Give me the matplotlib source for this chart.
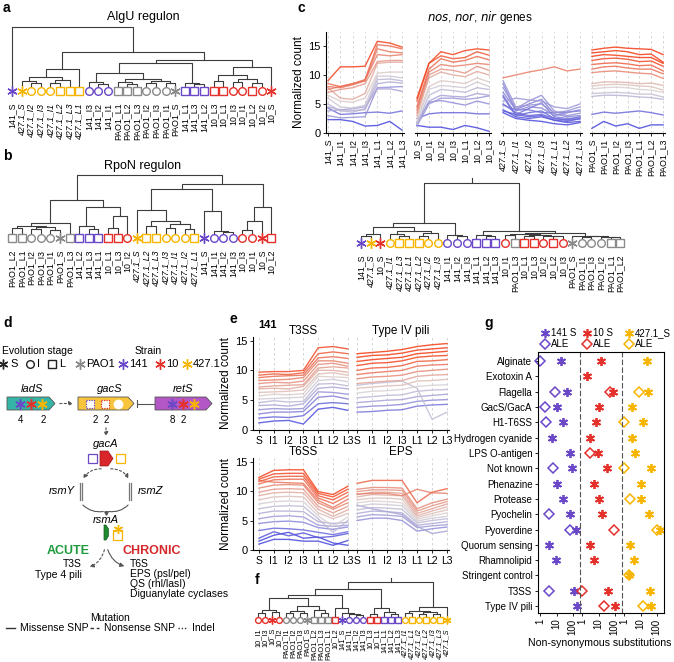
import numpy as np
import matplotlib
matplotlib.use('Agg')
import matplotlib.pyplot as plt
from matplotlib.patches import Polygon, Rectangle
from matplotlib.colors import LinearSegmentedColormap, Normalize

plt.rcParams['font.family'] = ['Liberation Sans', 'DejaVu Sans']

W, H = 674, 662
STAGES = ['S', 'I1', 'I2', 'I3', 'L1', 'L2', 'L3']
STRAIN_COL = {'PAO1': '#8a8a8a', '141': '#6a48c8', '10': '#e4312b', '427.1': '#f7b500'}
STAR = (6, 2, 0)

# ---- dendrogram data (leaf order + merge heights) ----
labels_a = ['141_S', '427.1_S', '427.1_I2', '427.1_I3', '427.1_I1', '427.1_L2', '427.1_L3', '427.1_L1',
            '141_I3', '141_I2', '141_I1', 'PAO1_L1', 'PAO1_L2', 'PAO1_L3', 'PAO1_I2', 'PAO1_I3', 'PAO1_I1',
            'PAO1_S', '141_L1', '141_L3', '141_L2', '10_L3', '10_L1', '10_I3', '10_I1', '10_L2', '10_I2', '10_S']
tree_a = (64, 0, (39, (22, (14, (10, 1, (8, 2, 3)), (11, (8, 4, 5), 6)), 7),
                  (31, (28, (18, (9, 8, (7, 9, 10)), (12, (9, 11, (7, 12, 13)), (10, (8, 14, 15), (8, 16, 17)))),
                        (8, 18, (7, 19, 20))),
                   (24, (16, (10, 21, 22), (12, (9, 23, 24), (8, 25, 26))), 27))))

labels_b = ['PAO1_L2', 'PAO1_L1', 'PAO1_I2', 'PAO1_I3', 'PAO1_I1', 'PAO1_S', 'PAO1_L3', '141_L2', '141_L3',
            '141_L1', '10_L1', '10_L3', '10_I2', '427.1_S', '427.1_L2', '427.1_L3', '427.1_I3', '427.1_I1',
            '427.1_I2', '427.1_L1', '141_S', '141_I1', '141_I2', '141_I3', '10_I3', '10_I1', '10_S', '10_L2']
tree_b = (63, (38, (15, (12, (10, 0, 1), (11, (9, 2, 3), (8, 4, 5))), 6),
               (31, (12, 7, (9, 8, 9)), (22, (10, 10, 11), 12))),
          (54, (49, (28, 13, (17, (12, 14, 15), (14, (10, 16, 17), (9, 18, 19)))),
                (27, 20, (7, 21, (6, 22, 23)))),
           (31, (17, (8, 24, 25), 26), 27)))

labels_c = ['141_S', '427.1_S', '10_S', '427.1_I1', '427.1_L3', '427.1_L1', '427.1_L2', '427.1_I2', '427.1_I3',
            '141_I1', '141_I2', '141_I3', '141_L1', '141_L2', '141_L3', '10_I1', 'PAO1_L3', '10_L1', '10_L3',
            '10_I2', '10_L2', '10_I3', 'PAO1_S', 'PAO1_I1', 'PAO1_I3', 'PAO1_I2', 'PAO1_L1', 'PAO1_L2']
tree_c = (60, (20, (16, (9, (7, 0, 1), 2), (12, (9, 3, (7, 4, 5)), (10, (7, 6, 7), 8))), (8, 9, (7, 10, 11))),
          (12, (8, 12, (7, 13, 14)),
           (10, (9, (8, 15, 16), (8, (7, 17, 18), (7, 19, (6.5, 20, 21)))),
            (7, 22, (6.5, (6, 23, 24), (6, 25, (5.8, 26, 27)))))))

labels_f = ['10_I1', '10_I3', '10_S', '10_I2', 'PAO1_I1', 'PAO1_I2', 'PAO1_I3', 'PAO1_S', 'PAO1_L2', 'PAO1_L3',
            'PAO1_L1', '10_L2', '141_S', '141_I1', '141_I2', '141_I3', '10_L3', '10_L1', '141_L1', '141_L2',
            '141_L3', '427.1_I1', '427.1_L1', '427.1_I2', '427.1_L2', '427.1_I3', '427.1_L3', '427.1_S']
tree_f = (38, (31, (25, (22, (10, (7, 0, 1), (8, 2, 3)), (14, (9, (7, 4, 5), (7, 6, 7)), (10, 8, (7, 9, 10)))),
                    (12, 11, (7, 12, (6, 13, (5.5, 14, 15))))),
               (12, (6, 16, 17), (8, 18, (6, 19, 20)))),
          (13, (9, (7, 21, 22), (8, (6, 23, 24), (6, 25, 26))), 27))

# ---- panel c: nos/nor/nir normalized counts (S, I1, I2, I3, L1, L2, L3) ----
c_141 = [[9.0, 11.4, 11.4, 11.5, 15.8, 15.5, 14.8], [8.5, 8.0, 8.5, 9.2, 15.2, 15.0, 14.5],
         [8.0, 7.8, 8.3, 9.0, 14.5, 14.0, 13.8], [7.5, 8.0, 8.5, 9.0, 13.5, 13.3, 13.5],
         [7.0, 7.5, 7.8, 8.5, 12.3, 12.5, 12.5], [7.8, 6.0, 5.8, 6.8, 12.0, 12.2, 12.2],
         [6.5, 5.5, 5.3, 6.0, 10.3, 10.5, 10.5], [6.0, 4.5, 4.3, 4.8, 9.8, 9.8, 9.5],
         [5.0, 3.8, 3.6, 4.2, 9.2, 9.3, 9.0], [4.5, 4.0, 3.9, 4.0, 8.5, 8.8, 8.6],
         [3.8, 4.0, 4.2, 4.5, 7.6, 7.6, 7.2], [4.3, 3.2, 3.3, 3.5, 3.6, 3.4, 3.8],
         [2.3, 2.3, 2.0, 1.2, 1.3, 2.0, 0.5], [3.0, 2.6, 2.7, 2.8, 7.8, 7.9, 8.0]]
c_10 = [[6.0, 12.0, 14.0, 13.5, 14.2, 14.5, 14.3], [5.5, 12.0, 13.3, 12.8, 13.0, 14.0, 13.4],
        [4.5, 11.0, 12.8, 12.2, 12.5, 13.2, 12.6], [4.0, 10.5, 11.8, 11.5, 11.7, 12.0, 11.8],
        [3.5, 10.0, 11.0, 10.8, 10.3, 11.5, 10.8], [3.0, 9.5, 10.5, 10.0, 9.7, 10.6, 10.0],
        [2.5, 8.0, 9.0, 8.8, 8.5, 9.5, 8.8], [2.0, 7.5, 8.2, 8.0, 7.8, 8.8, 8.0],
        [1.5, 6.5, 7.5, 7.3, 7.0, 7.8, 7.5], [1.5, 5.5, 6.5, 6.3, 6.2, 6.8, 6.5],
        [1.2, 5.0, 6.0, 6.0, 5.8, 6.0, 6.4], [2.5, 3.3, 3.5, 3.5, 3.5, 3.3, 3.3],
        [1.3, 1.0, 1.0, 0.6, 1.3, 0.9, 0.3], [1.8, 5.3, 5.6, 5.2, 4.8, 5.5, 5.0]]
c_427 = [[9.5, 10.0, 10.5, 10.9, 11.4, 10.7, 11.0], [9.0, 4.5, 4.8, 5.0, 3.5, 3.8, 4.5],
         [8.5, 3.8, 4.5, 4.3, 3.0, 3.5, 4.0], [7.8, 4.2, 5.5, 6.5, 3.8, 3.0, 3.4],
         [7.0, 4.0, 5.0, 5.8, 3.3, 2.8, 3.0], [6.5, 3.2, 4.2, 5.2, 2.8, 2.5, 2.6],
         [6.2, 3.0, 3.5, 3.8, 2.5, 2.2, 2.4], [5.5, 6.0, 5.7, 5.5, 4.5, 4.2, 5.0],
         [4.8, 4.0, 4.0, 3.5, 3.5, 3.6, 3.8], [4.0, 2.8, 2.5, 2.8, 2.2, 1.8, 2.0],
         [3.8, 3.2, 2.8, 3.0, 2.2, 2.0, 2.5], [3.5, 2.5, 2.2, 2.0, 1.6, 1.4, 1.8],
         [5.0, 3.5, 3.0, 3.2, 2.5, 2.3, 2.8]]
c_pao1 = [[14.3, 14.6, 14.8, 14.6, 14.5, 14.4, 13.5], [13.8, 14.0, 14.2, 14.0, 13.5, 13.6, 12.2],
          [13.2, 13.5, 13.4, 13.2, 13.0, 13.0, 12.0], [12.5, 12.8, 12.9, 12.7, 12.3, 12.4, 11.5],
          [11.8, 12.0, 12.1, 11.9, 11.6, 11.7, 10.7], [11.0, 11.4, 11.5, 11.2, 11.0, 11.0, 10.2],
          [10.4, 10.6, 10.7, 10.5, 10.3, 10.2, 9.4], [8.5, 8.8, 8.8, 8.7, 8.5, 8.6, 8.2],
          [8.1, 8.3, 8.4, 8.3, 8.1, 8.0, 7.4], [7.6, 7.8, 7.9, 7.8, 7.5, 7.4, 7.0],
          [6.8, 6.9, 7.0, 6.9, 6.7, 6.7, 6.2], [6.3, 6.5, 6.5, 6.4, 6.2, 6.1, 5.8],
          [3.2, 3.6, 3.4, 3.6, 3.8, 3.5, 3.1], [0.8, 2.0, 1.2, 1.6, 0.8, 1.4, 1.4]]

# ---- panel e: strain 141 pathways ----
e_t3ss = [[9.7, 9.8, 9.8, 10.0, 13.8, 14.0, 13.6], [9.2, 9.4, 9.3, 9.6, 12.8, 13.1, 12.8],
          [8.8, 9.0, 9.1, 9.2, 12.1, 12.3, 12.0], [8.3, 8.4, 8.5, 8.8, 11.6, 11.6, 11.2],
          [7.8, 8.0, 7.9, 8.2, 11.0, 11.2, 10.7], [7.2, 7.4, 7.5, 7.6, 10.4, 10.6, 10.4],
          [6.9, 7.0, 6.9, 7.3, 10.0, 10.0, 9.7], [6.3, 6.4, 6.5, 6.7, 9.4, 9.6, 9.2],
          [5.7, 6.0, 5.9, 6.1, 9.0, 8.9, 8.8], [5.2, 5.3, 5.4, 5.5, 8.3, 8.5, 8.1],
          [4.6, 4.9, 4.7, 4.8, 7.7, 7.8, 7.4], [4.1, 4.2, 4.0, 4.4, 7.0, 7.2, 6.9],
          [3.4, 3.6, 3.5, 3.6, 6.4, 6.3, 6.0], [2.7, 3.0, 3.0, 3.1, 5.5, 5.7, 5.2],
          [2.0, 2.2, 2.1, 2.4, 4.4, 4.6, 4.4], [1.2, 1.5, 1.6, 1.0, 3.5, 3.8, 3.3]]
e_pili = [[12.8, 13.0, 13.2, 13.5, 14.0, 14.3, 14.5], [12.2, 12.5, 12.6, 12.9, 13.4, 13.6, 13.8],
          [11.5, 11.8, 12.0, 12.2, 12.8, 13.0, 13.2], [10.8, 11.2, 11.3, 11.6, 12.2, 12.4, 12.5],
          [10.0, 10.4, 10.5, 10.8, 11.5, 11.6, 11.8], [9.3, 9.6, 9.8, 10.0, 10.7, 10.9, 11.0],
          [8.6, 8.9, 9.0, 9.2, 9.8, 10.0, 10.2], [7.8, 8.0, 8.2, 8.3, 9.0, 9.2, 9.3],
          [7.0, 7.2, 7.4, 7.5, 8.2, 8.3, 8.5], [6.2, 6.5, 6.6, 6.8, 7.3, 7.5, 7.6],
          [5.4, 5.6, 5.8, 5.9, 6.5, 6.7, 6.8], [4.6, 4.8, 5.0, 5.1, 5.6, 5.8, 6.0],
          [3.8, 4.0, 4.1, 4.3, 4.8, 5.0, 5.1], [3.0, 3.1, 3.3, 3.4, 4.0, 4.2, 4.3],
          [7.5, 7.8, 8.0, 8.2, 7.0, 1.8, 3.0]]
e_t6ss = [[12.3, 13.5, 13.6, 13.6, 9.9, 9.4, 10.8], [12.0, 12.9, 13.0, 13.0, 9.6, 9.0, 10.3],
          [11.6, 12.4, 12.5, 12.5, 9.2, 8.5, 9.8], [11.2, 11.9, 12.0, 12.0, 8.8, 7.9, 9.2],
          [11.8, 11.5, 11.4, 11.3, 8.4, 7.2, 8.6], [10.5, 11.0, 11.1, 11.0, 8.0, 6.9, 8.0],
          [9.8, 10.3, 10.4, 10.3, 7.4, 6.3, 7.4], [9.2, 9.7, 9.8, 9.7, 6.9, 5.7, 6.8],
          [8.5, 9.0, 9.1, 9.0, 6.3, 5.3, 6.2], [7.8, 8.2, 8.3, 8.2, 5.8, 4.0, 5.6],
          [7.0, 7.4, 7.5, 7.4, 5.3, 3.0, 5.0], [6.2, 6.6, 6.6, 6.5, 4.8, 4.5, 4.7],
          [5.3, 5.7, 5.8, 5.6, 4.2, 4.0, 4.2], [4.5, 4.8, 4.9, 4.7, 3.8, 3.5, 3.9],
          [3.3, 3.7, 3.6, 3.4, 3.0, 2.6, 3.1], [2.0, 3.1, 2.4, 2.9, 2.1, 2.3, 2.8],
          [1.0, 1.8, 1.8, 1.5, 1.5, 0.8, 1.6], [1.5, 2.5, 3.0, 2.0, 2.2, 1.2, 0.8]]
e_eps = [[11.3, 11.8, 11.8, 11.8, 8.0, 9.8, 10.4], [10.3, 10.6, 10.6, 10.5, 7.0, 8.0, 8.6],
         [9.9, 10.2, 10.2, 10.1, 6.6, 7.5, 8.2], [9.4, 9.8, 9.8, 9.6, 6.2, 7.0, 7.8],
         [9.0, 9.4, 9.3, 9.2, 5.8, 6.6, 7.3], [9.5, 9.6, 9.6, 9.2, 10.3, 9.7, 9.6],
         [8.5, 8.8, 8.8, 8.6, 5.5, 6.2, 6.8], [8.0, 8.3, 8.2, 8.0, 5.2, 5.8, 6.3],
         [7.4, 7.8, 7.7, 7.5, 4.9, 5.4, 5.7], [6.8, 7.2, 7.1, 6.9, 4.6, 5.0, 5.3],
         [6.2, 6.6, 6.5, 6.3, 4.2, 4.5, 4.8], [5.6, 6.0, 5.9, 5.7, 3.8, 4.1, 4.3],
         [5.0, 5.4, 5.4, 5.0, 3.2, 3.6, 3.9], [7.6, 7.0, 6.5, 6.0, 4.0, 2.8, 3.2]]

# ---- panel g: non-synonymous substitutions per pathway ----
g_cats = ['Alginate', 'Exotoxin A', 'Flagella', 'GacS/GacA', 'H1-T6SS', 'Hydrogen cyanide', 'LPS O-antigen',
          'Not known', 'Phenazine', 'Protease', 'Pyochelin', 'Pyoverdine', 'Quorum sensing', 'Rhamnolipid',
          'Stringent control', 'T3SS', 'Type IV pili']
nan = np.nan
g_s141 = [20, nan, 45, 10, 24, 5, 72, 95, 10, 24, 72, 166, 3.2, 9.3, nan, 120, 180]
g_a141 = [1, nan, 8, 2, 2.3, nan, nan, 6.4, nan, nan, 3.2, 72, nan, nan, nan, 3.2, nan]
g_s10 = [15, 2, 75, 10, 7.4, 3, 9.3, 33, 5.3, 10, 17, nan, 3, 5.3, nan, 38, 105]
g_a10 = [nan, nan, 50, nan, nan, nan, 3, nan, nan, nan, nan, 95, nan, nan, nan, 1, 22]
g_s427 = [25, nan, 30, 3, 14, 2.8, 4.8, 42, 10, 11, 32, 160, 2.1, 3.9, 2, 36, 43]
g_a427 = [nan, nan, 8, nan, 1, nan, nan, 1, nan, 2.1, nan, 100, nan, nan, 2, nan, 13.5]

fig = plt.figure(figsize=(W / 100, H / 100), dpi=100)


def px_axes(x0, y0, x1, y1):
    return fig.add_axes([x0 / W, 1 - y1 / H, (x1 - x0) / W, (y1 - y0) / H])


def leaf_style(lab):
    strain, stage = lab.rsplit('_', 1)
    mk = {'S': STAR, 'I': 'o', 'L': 's'}[stage[0]]
    return mk, STRAIN_COL[strain]


def draw_tree(ax, node, base):
    if isinstance(node, int):
        return node, base
    h, left, right = node
    x1, h1 = draw_tree(ax, left, base)
    x2, h2 = draw_tree(ax, right, base)
    ax.plot([x1, x1, x2, x2], [h1, h, h, h2], color='#3c3c3c', lw=0.8, clip_on=False)
    return (x1 + x2) / 2, h


def dendro(tree, labels, x_first, step, y_root, y_mark, stem=0, base=5, ms=5.5, fs=6.3, pad=5.5):
    n = len(labels)
    ax = px_axes(x_first - step / 2, y_root - stem, x_first + (n - 0.5) * step, y_mark + 4)
    ax.set_xlim(-0.5, n - 0.5)
    ax.set_ylim(-4, y_mark - y_root + stem)
    xr, hr = draw_tree(ax, tree, base)
    if stem:
        ax.plot([xr, xr], [hr, hr + stem], color='#3c3c3c', lw=0.8, clip_on=False)
    for i, lab in enumerate(labels):
        mk, col = leaf_style(lab)
        size = ms * 1.35 if mk == STAR else ms
        ax.plot(i, 0, marker=mk, mfc='none', mec=col, ms=size, mew=1.0, clip_on=False)
    ax.set_xticks(range(n))
    ax.set_xticklabels(labels, rotation=90, fontsize=fs)
    for t in ax.get_xticklabels():
        if t.get_text().startswith('427.1'):
            t.set_fontstyle('italic')
    ax.tick_params(length=0, pad=pad)
    ax.set_yticks([])
    for s in ax.spines.values():
        s.set_visible(False)
    ax.patch.set_visible(False)
    return ax


cmap = LinearSegmentedColormap.from_list('soft_bwr', ['#4848dc', '#dad3d3', '#f43c14'])


def line_panel(ax, rows, vmin, vmax):
    norm = Normalize(vmin, vmax)
    for r in sorted(rows, key=np.mean):
        ax.plot(range(7), r, color=cmap(norm(np.mean(r))), lw=1.0, alpha=0.85)
    ax.grid(axis='x', ls=(0, (3, 3)), color='#cfcfcf', lw=0.6)
    ax.spines['top'].set_visible(False)
    ax.spines['right'].set_visible(False)
    ax.patch.set_visible(False)


# ---- a, b, c dendrograms ----
dendro(tree_a, labels_a, 12, 9.6, 27, 91)
dendro(tree_b, labels_b, 12, 9.6, 175, 238)
dendro(tree_c, labels_c, 361, 9.6, 183, 243, stem=5)
dendro(tree_f, labels_f, 258, 7.0, 582, 620, stem=4, base=3.5, ms=4.2, fs=5.3, pad=3)

# ---- c line charts ----
c_sets = [('141', c_141, 326, 404), ('10', c_10, 415, 491), ('427.1', c_427, 501, 582), ('PAO1', c_pao1, 590, 665)]
for k, (strain, rows, x0, x1) in enumerate(c_sets):
    ax = px_axes(x0, 32, x1, 133)
    line_panel(ax, rows, 2, 13)
    ax.set_xlim(-0.16, 6.16)
    ax.set_ylim(0, 17.4)
    ax.set_xticks(range(7))
    ax.set_xticklabels([strain + '_' + s for s in STAGES], rotation=90, fontsize=6.3)
    if strain == '427.1':
        for t in ax.get_xticklabels():
            t.set_fontstyle('italic')
    ax.tick_params(length=2.5, width=0.6, pad=1.5, labelsize=6.3)
    if k == 0:
        ax.set_yticks([0, 5, 10, 15])
        ax.tick_params(axis='y', labelsize=8)
        ax.set_ylabel('Normalized count', fontsize=8.5, labelpad=2)
    else:
        ax.spines['left'].set_visible(False)
        ax.set_yticks([])

# ---- e line charts ----
e_sets = [(e_t3ss, 'T3SS', 253, 353, 337, 430, True), (e_pili, 'Type IV pili', 353, 449, 337, 430, False),
          (e_t6ss, 'T6SS', 253, 353, 458, 550, True), (e_eps, 'EPS', 353, 449, 458, 550, False)]
for rows, title, x0, x1, y0, y1, first in e_sets:
    ax = px_axes(x0, y0, x1, y1)
    line_panel(ax, rows, 2, 12)
    ax.set_ylim(0, 15.6)
    ax.set_xlim((-0.4, 6.35) if first else (-0.27, 6.13))
    ax.set_xticks(range(7))
    ax.set_xticklabels(STAGES, fontsize=7.5)
    ax.tick_params(length=2.5, width=0.6, pad=1.5)
    ax.set_title(title, fontsize=8.5, pad=2)
    if first:
        ax.set_yticks([0, 5, 10, 15])
        ax.tick_params(axis='y', labelsize=8)
        ax.set_ylabel('Normalized count', fontsize=8.5, labelpad=2)
    else:
        ax.spines['left'].set_visible(False)
        ax.set_yticks([])

# ---- g dot plot ----
g_sets = [(g_s141, g_a141, '#6a48c8'), (g_s10, g_a10, '#e4312b'), (g_s427, g_a427, '#f7b500')]
ypos = np.arange(len(g_cats))
for k, (svals, avals, col) in enumerate(g_sets):
    ax = px_axes(538 + 42 * k, 352, 580 + 42 * k, 613)
    ax.set_xscale('log')
    ax.set_xlim(0.72, 280)
    ax.set_ylim(len(g_cats) - 0.55, -0.6)
    ax.plot(avals, ypos, 'D', mfc='none', mec=col, ms=5.5, mew=1.1, ls='none', clip_on=False)
    ax.plot(svals, ypos, marker=STAR, color=col, ms=6.5, mew=1.3, ls='none', clip_on=False)
    ax.set_xticks([1, 10, 100])
    ax.set_xticklabels(['1', '10', '100'], rotation=90, fontsize=7)
    ax.xaxis.set_minor_locator(matplotlib.ticker.NullLocator())
    ax.tick_params(axis='x', length=2.5, width=0.6, pad=1.5)
    if k == 0:
        ax.set_yticks(ypos)
        ax.set_yticklabels(g_cats, fontsize=7)
        ax.tick_params(axis='y', length=2.5, width=0.6, pad=1.5)
    else:
        ax.set_yticks([])
        ax.spines['left'].set_linestyle((0, (4, 3)))
        ax.spines['left'].set_color('#555555')
    if k < 2:
        ax.spines['right'].set_visible(False)
    ax.patch.set_visible(False)

# ---- overlay in pixel coordinates: labels, titles, panel d ----
ov = fig.add_axes([0, 0, 1, 1])
ov.set_xlim(0, W)
ov.set_ylim(H, 0)
ov.axis('off')


def txt(x, y, s, **kw):
    kw.setdefault('fontsize', 7.5)
    kw.setdefault('ha', 'center')
    kw.setdefault('va', 'center')
    ov.text(x, y, s, **kw)


for lab, x, y in [('a', 3, 8), ('b', 3, 156), ('c', 297, 8), ('d', 3, 323), ('e', 230, 319), ('f', 255, 580),
                  ('g', 484, 323)]:
    txt(x, y, lab, fontsize=10, fontweight='bold', ha='left')
txt(143, 17, 'AlgU regulon', fontsize=9)
txt(143, 166, 'RpoN regulon', fontsize=9)
ov.text(480, 17, r'$\it{nos}$, $\it{nor}$, $\it{nir}$ genes', fontsize=8.5, ha='center', va='center')
txt(258, 325, '141', fontsize=8, fontweight='bold', ha='left')

# g legend
for k, (name, col) in enumerate([('141 S', '#6a48c8'), ('10 S', '#e4312b'), ('427.1_S', '#f7b500')]):
    x = 545 + 42 * k
    ov.plot(x, 333, marker=STAR, color=col, ms=6.5, mew=1.2)
    txt(x + 6, 333, name, ha='left', fontsize=7)
    ov.plot(x, 344, 'D', mfc='none', mec=col, ms=5, mew=1.1)
    txt(x + 6, 344, 'ALE', ha='left', fontsize=7)
txt(600, 643, 'Non-synonymous substitutions', fontsize=7.6)

# d legend
txt(2, 351, 'Evolution stage', fontsize=7.5, ha='left')
txt(148, 351, 'Strain', fontsize=7.5)
for x, mk, lab in [(3, STAR, 'S'), (30, 'o', 'I'), (52, 's', 'L')]:
    ov.plot(x, 364, marker=mk, mfc='none', mec='#222222', ms=7 if mk == STAR else 5.5, mew=1.0)
    txt(x + 7, 364, lab, ha='left', fontsize=8)
for x, strain in [(80, 'PAO1'), (123, '141'), (160, '10'), (187, '427.1')]:
    ov.plot(x, 364, marker=STAR, mec=STRAIN_COL[strain], ms=7.5, mew=1.0)
    txt(x + 6, 364, strain, ha='left', fontsize=8)


def gene(x0, x1, y0, y1, col):
    tip = 6
    ov.add_patch(Polygon([(x0, y0), (x1 - tip, y0), (x1, (y0 + y1) / 2), (x1 - tip, y1), (x0, y1)],
                         closed=True, fc=col, ec='#555555', lw=0.6))


gene(7, 55, 397, 410, '#35b5a6')
gene(78, 134, 397, 410, '#f8c53c')
gene(155, 212, 397, 410, '#b356c6')
txt(32, 389, 'ladS', fontstyle='italic', fontsize=8)
txt(110, 389, 'gacS', fontstyle='italic', fontsize=8)
txt(183, 389, 'retS', fontstyle='italic', fontsize=8)
for x, strain in [(20, '141'), (31, '10'), (42, '427.1'), (172, '141'), (183, '10'), (194, '427.1')]:
    ov.plot(x, 403.5, marker=STAR, mec=STRAIN_COL[strain], ms=7.5, mew=1.1)
ov.add_patch(Rectangle((86, 399.5), 8, 8, fc='white', ec='#6a48c8', lw=0.9, ls=(0, (1, 1))))
ov.add_patch(Rectangle((101, 399.5), 8, 8, fc='white', ec='#e4312b', lw=0.9, ls=(0, (1, 1))))
ov.plot(118, 403.5, 'o', mfc='white', mec='white', ms=6)
for x, n in [(20, '4'), (43, '2'), (95, '2'), (106, '2'), (172, '8'), (183, '2')]:
    txt(x, 420, n, fontsize=7)
ov.annotate('', xy=(76, 403.5), xytext=(57, 403.5),
            arrowprops=dict(arrowstyle='-|>', ls=(0, (2, 2)), color='#555555', lw=0.8, mutation_scale=6))
ov.plot([137, 154], [403.5, 403.5], color='#555555', lw=0.8)
ov.plot([137, 137], [400, 407], color='#555555', lw=0.8)
ov.annotate('', xy=(106, 439), xytext=(106, 425),
            arrowprops=dict(arrowstyle='-|>', ls=(0, (2, 2)), color='#555555', lw=0.8, mutation_scale=6))

# gacA
txt(106, 444, 'gacA', fontstyle='italic', fontsize=8)
ov.add_patch(Polygon([(100, 451), (108, 451), (113, 458.5), (108, 466), (100, 466)], closed=True,
                     fc='#d8262a', ec='#9a1a1a', lw=0.5))
ov.add_patch(Rectangle((88, 454), 9, 9, fc='none', ec='#6a48c8', lw=0.9))
ov.add_patch(Rectangle((116, 454), 9, 9, fc='none', ec='#f7b500', lw=0.9))
ov.annotate('', xy=(82, 481), xytext=(104, 469),
            arrowprops=dict(arrowstyle='-|>', ls=(0, (2, 2)), color='#555555', lw=0.8, mutation_scale=6,
                            connectionstyle='arc3,rad=0.35'))
ov.annotate('', xy=(130, 481), xytext=(108, 469),
            arrowprops=dict(arrowstyle='-|>', ls=(0, (2, 2)), color='#555555', lw=0.8, mutation_scale=6,
                            connectionstyle='arc3,rad=-0.35'))

# rsmY / rsmZ
for x in (81, 130):
    ov.plot([x - 1, x - 1], [483, 500], color='#777777', lw=0.9)
    ov.plot([x + 1, x + 1], [483, 500], color='#777777', lw=0.9)
txt(62, 491, 'rsmY', fontstyle='italic', fontsize=8)
txt(151, 491, 'rsmZ', fontstyle='italic', fontsize=8)
ov.annotate('', xy=(106, 511), xytext=(81, 503),
            arrowprops=dict(arrowstyle='-', color='#555555', lw=0.8, connectionstyle='arc3,rad=0.3'))
ov.annotate('', xy=(106, 511), xytext=(130, 503),
            arrowprops=dict(arrowstyle='-', color='#555555', lw=0.8, connectionstyle='arc3,rad=-0.3'))
ov.plot(106, 513, marker='v', color='#555555', ms=2.5)

# rsmA
txt(106, 520, 'rsmA', fontstyle='italic', fontsize=8)
ov.add_patch(Polygon([(104, 525), (106, 525), (108.5, 529), (108.5, 536), (106, 540), (104, 540)],
                     closed=True, fc='#1f8a2e', ec='#145c1e', lw=0.5))
ov.add_patch(Rectangle((113, 530), 9, 10, fc='none', ec='#f7b500', lw=0.9))
ov.plot(117.5, 529, marker=STAR, mec='#f7b500', ms=6.5, mew=1.0)

txt(68, 551, 'ACUTE', fontsize=9, fontweight='bold', color='#1d9a3c')
txt(152, 551, 'CHRONIC', fontsize=9, fontweight='bold', color='#d6282b')
ov.annotate('', xy=(87, 568), xytext=(105, 547),
            arrowprops=dict(arrowstyle='-|>', ls=(0, (2, 2)), color='#555555', lw=0.8, mutation_scale=6,
                            connectionstyle='arc3,rad=-0.3'))
ov.annotate('', xy=(127, 567), xytext=(107, 547),
            arrowprops=dict(arrowstyle='-|>', color='#555555', lw=0.8, mutation_scale=6,
                            connectionstyle='arc3,rad=0.3'))
txt(82, 564, 'T3S', ha='right')
txt(82, 575, 'Type 4 pili', ha='right')
for i, s in enumerate(['T6S', 'EPS (psl/pel)', 'QS (rhl/lasI)', 'Diguanylate cyclases']):
    txt(130, 564 + 10 * i, s, ha='left')

# mutation legend
txt(110, 618, 'Mutation', fontsize=7.5)
for x0, ls, lab in [(6, '-', 'Missense SNP'), (90, (0, (2.5, 2)), 'Nonsense SNP'), (178, (0, (1, 1.3)), 'Indel')]:
    ov.plot([x0, x0 + 9], [628, 628], color='#333333', lw=1.0, ls=ls)
    txt(x0 + 14, 628, lab, ha='left', fontsize=7.5)

fig.savefig('out.png', dpi=100)
